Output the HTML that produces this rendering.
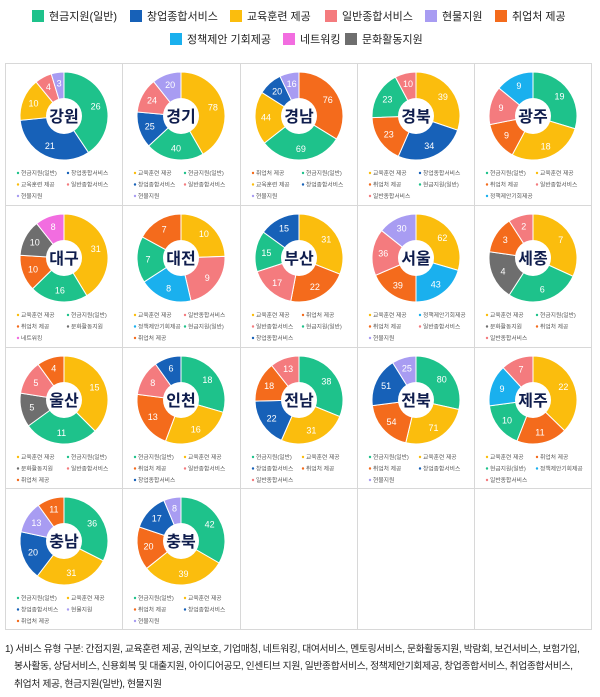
<!DOCTYPE html>
<html><head><meta charset="utf-8">
<style>
body{margin:0;width:600px;height:697px;background:#fff;font-family:"Liberation Sans","Noto Sans CJK KR",sans-serif;position:relative;overflow:hidden}
.lg{position:absolute;font-size:11px;color:#222;white-space:nowrap;line-height:13px}
.lg i{display:inline-block;width:12px;height:12px;vertical-align:-2px;margin-right:5px}
.fn{position:absolute;font-size:9.8px;color:#222;white-space:nowrap;letter-spacing:-0.35px;line-height:12px}
</style></head><body>
<div id="leg"></div>
<svg id="g" width="600" height="697" style="position:absolute;left:0;top:0"></svg>
<div class="fn" style="left:5px;top:644px">1) 서비스 유형 구분: 간접지원, 교육훈련 제공, 권익보호, 기업매칭, 네트워킹, 대여서비스, 멘토링서비스, 문화활동지원, 박람회, 보건서비스, 보험가입,</div>
<div class="fn" style="left:14px;top:661px">봉사활동, 상담서비스, 신용회복 및 대출지원, 아이디어공모, 인센티브 지원, 일반종합서비스, 정책제안기회제공, 창업종합서비스, 취업종합서비스,</div>
<div class="fn" style="left:14px;top:679px">취업처 제공, 현금지원(일반), 현물지원</div>
<script>
var C={G:"#1ec28b",B:"#1761b8",Y:"#fbbd0d",S:"#f47b7e",L:"#a89cf2",O:"#f46b1c",C:"#1ab0ee",P:"#f26de0",K:"#6e6e6e"};
var N={G:"현금지원(일반)",B:"창업종합서비스",Y:"교육훈련 제공",S:"일반종합서비스",L:"현물지원",O:"취업처 제공",C:"정책제안 기회제공",P:"네트워킹",K:"문화활동지원"};
var legs=[["G",32,10],["B",130,10],["Y",230,10],["S",325,10],["L",425,10],["O",495,10],["C",170,33],["P",283,33],["K",345,33]];
var h="";legs.forEach(function(l){h+='<div class="lg" style="left:'+l[1]+'px;top:'+l[2]+'px"><i style="background:'+C[l[0]]+'"></i>'+N[l[0]]+'</div>';});
document.getElementById("leg").innerHTML=h;
var D=[
["강원",[["G",26],["B",21],["Y",10],["S",4],["L",3]],["G","B","Y","S","L"]],
["경기",[["Y",78],["G",40],["B",25],["S",24],["L",20]],["Y","G","B","S","L"]],
["경남",[["O",76],["G",69],["Y",44],["B",20],["L",16]],["O","G","Y","B","L"]],
["경북",[["Y",39],["B",34],["O",23],["G",23],["S",10]],["Y","B","O","G","S"]],
["광주",[["G",19],["Y",18],["O",9],["S",9],["C",9]],["G","Y","O","S","C"]],
["대구",[["Y",31],["G",16],["O",10],["K",10],["P",8]],["Y","G","O","K","P"]],
["대전",[["Y",10],["S",9],["C",8],["G",7],["O",7]],["Y","S","C","G","O"]],
["부산",[["Y",31],["O",22],["S",17],["G",15],["B",15]],["Y","O","S","G","B"]],
["서울",[["Y",62],["C",43],["O",39],["S",36],["L",30]],["Y","C","O","S","L"]],
["세종",[["Y",7],["G",6],["K",4],["O",3],["S",2]],["Y","G","K","O","S"]],
["울산",[["Y",15],["G",11],["K",5],["S",5],["O",4]],["Y","G","K","S","O"]],
["인천",[["G",18],["Y",16],["O",13],["S",8],["B",6]],["G","Y","O","S","B"]],
["전남",[["G",38],["Y",31],["B",22],["O",18],["S",13]],["G","Y","B","O","S"]],
["전북",[["G",80],["Y",71],["O",54],["B",51],["L",25]],["G","Y","O","B","L"]],
["제주",[["Y",22],["O",11],["G",10],["C",9],["S",7]],["Y","O","G","C","S"]],
["충남",[["G",36],["Y",31],["B",20],["L",13],["O",11]],["G","Y","B","L","O"]],
["충북",[["G",42],["Y",39],["O",20],["B",17],["L",8]],["G","Y","O","B","L"]]];
var N2={G:"현금지원(일반)",B:"창업종합서비스",Y:"교육훈련 제공",S:"일반종합서비스",L:"현물지원",O:"취업처 제공",C:"정책제안기회제공",P:"네트워킹",K:"문화활동지원"};
var xs=[5,122,240,357,474,591],ys=[63,205,347,488,630];
var s="";
s+='<rect x="5.5" y="63.5" width="586" height="566" fill="none" stroke="#d8d8d8"/>';
for(var i=1;i<5;i++)s+='<line x1="'+(xs[i]+.5)+'" y1="63" x2="'+(xs[i]+.5)+'" y2="630" stroke="#d8d8d8"/>';
for(var j=1;j<4;j++)s+='<line x1="5" y1="'+(ys[j]+.5)+'" x2="591" y2="'+(ys[j]+.5)+'" stroke="#d8d8d8"/>';
function pt(cx,cy,r,a){return [cx+r*Math.sin(a),cy-r*Math.cos(a)];}
D.forEach(function(d,k){
 var col=k%5,row=Math.floor(k/5),x0=xs[col],y0=ys[row];
 var cx=x0+59,cy=y0+53,R=44,r=18;
 var tot=0;d[1].forEach(function(p){tot+=p[1];});
 var a=0;
 d[1].forEach(function(p){
  var b=a+p[1]/tot*2*Math.PI;
  var p1=pt(cx,cy,R,a),p2=pt(cx,cy,R,b),l=(b-a>Math.PI)?1:0;
  s+='<path d="M'+cx+','+cy+'L'+p1[0]+','+p1[1]+'A'+R+','+R+' 0 '+l+' 1 '+p2[0]+','+p2[1]+'Z" fill="'+C[p[0]]+'" stroke="#fff" stroke-width="1"/>';
  var m=pt(cx,cy,33,(a+b)/2);
  s+='<text x="'+m[0]+'" y="'+(m[1]+3)+'" font-size="9" fill="#fff" text-anchor="middle">'+p[1]+'</text>';
  a=b;});
 s+='<circle cx="'+cx+'" cy="'+cy+'" r="'+r+'" fill="#fff"/>';
 s+='<text x="'+cx+'" y="'+(cy+6)+'" font-size="16" font-weight="bold" fill="#0f1d4d" text-anchor="middle">'+d[0]+'</text>';
 d[2].forEach(function(c,q){
  var lx=x0+13+(q%2)*50,ly=y0+112+Math.floor(q/2)*11.5;
  s+='<circle cx="'+lx+'" cy="'+(ly-2)+'" r="1.2" fill="'+C[c]+'"/>';
  s+='<text x="'+(lx+3)+'" y="'+ly+'" font-size="5.8" fill="#555">'+N2[c]+'</text>';
 });
});
document.getElementById("g").innerHTML=s;
</script>
</body></html>
